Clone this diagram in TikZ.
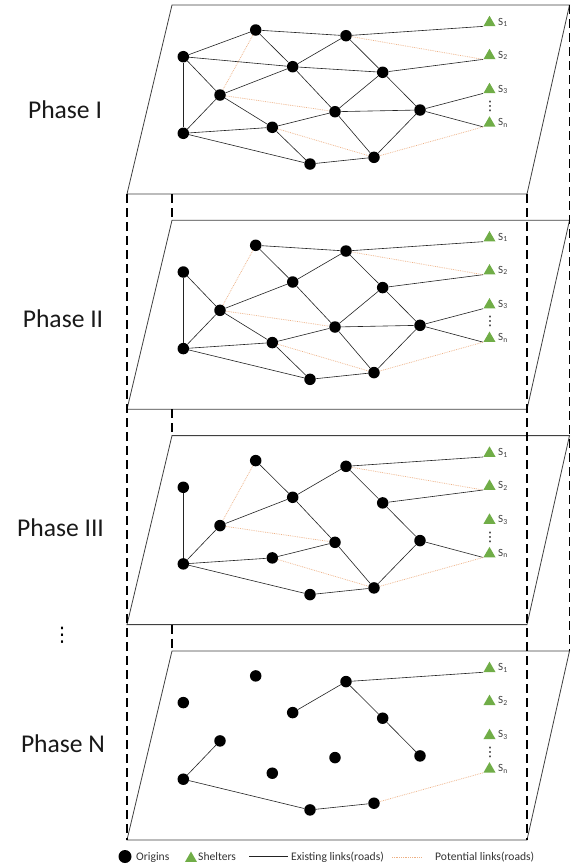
\documentclass[tikz,border=0pt]{standalone}
\usepackage{fontspec}
\setmainfont{Carlito}
\newfontfamily\symfont{DejaVu Sans}
\usetikzlibrary{shapes.geometric}
\definecolor{shgreen}{RGB}{112,173,71}
\definecolor{potcol}{RGB}{238,176,132}
\definecolor{edgecol}{RGB}{35,35,35}
\definecolor{planecol}{RGB}{64,64,64}
\tikzset{
 origin/.style={circle,fill=black,inner sep=0pt,minimum size=11.5pt},
 shelter/.style={regular polygon,regular polygon sides=3,fill=shgreen,inner sep=0pt,minimum size=13.9pt},
 slabel/.style={anchor=base west,inner sep=0pt,font=\fontsize{11}{13}\selectfont,text=black!75},
 road/.style={draw=edgecol,line width=0.6pt},
 potential/.style={draw=potcol,line width=0.7pt,dash pattern=on 0.8pt off 1pt},
 plane/.style={draw=planecol,line width=0.8pt,fill=white},
 pillar/.style={draw=black,line width=1.3pt,dash pattern=on 9pt off 5pt},
 phaselabel/.style={anchor=base,inner sep=0pt,font=\fontsize{25.6}{30}\selectfont,text=black!90},
 legtext/.style={anchor=base west,inner sep=0pt,font=\fontsize{11.6}{14}\selectfont,text=black!80},
 dotsnode/.style={inner sep=0pt,font=\symfont\fontsize{13}{14}\selectfont},
}
\begin{document}
\begin{tikzpicture}[x=1pt,y=-1pt]
\useasboundingbox (0,0) rectangle (571,865);
\foreach \k/\off in {1/0,2/215.3,3/430.6,4/645.9}{
 \begin{scope}[yshift=-\off pt]
  \coordinate (p\k-TL) at (172,5);
  \coordinate (p\k-TR) at (569.5,5);
  \coordinate (p\k-BR) at (527,194);
  \coordinate (p\k-BL) at (127,194);
  \coordinate (p\k-BM) at (172,194);
  \draw[plane] (p\k-TL) -- (p\k-TR) -- (p\k-BR) -- (p\k-BL) -- cycle;
  \node[origin] (p\k-A) at (183.3,56.7) {};
  \node[origin] (p\k-B) at (255.7,30) {};
  \node[origin] (p\k-C) at (346,35.7) {};
  \node[origin] (p\k-D) at (292.7,66.7) {};
  \node[origin] (p\k-E) at (382.7,72.3) {};
  \node[origin] (p\k-F) at (220,95) {};
  \node[origin] (p\k-G) at (335,111.7) {};
  \node[origin] (p\k-H) at (420,110) {};
  \node[origin] (p\k-I) at (183.3,133.3) {};
  \node[origin] (p\k-J) at (272.3,127.3) {};
  \node[origin] (p\k-K) at (310,164) {};
  \node[origin] (p\k-L) at (374,157.3) {};
  \node[shelter] (p\k-S1) at (489.5,22.7) {};
  \node[shelter] (p\k-S2) at (489.5,55.7) {};
  \node[shelter] (p\k-S3) at (489.5,89.7) {};
  \node[shelter] (p\k-Sn) at (489.5,123.2) {};
  \coordinate (p\k-T1) at (p\k-S1.corner 2);
  \coordinate (p\k-T2) at (p\k-S2.corner 2);
  \coordinate (p\k-T3) at (p\k-S3.corner 2);
  \coordinate (p\k-Tn) at (p\k-Sn.corner 2);
  \node[slabel] (p\k-l1) at (498,25) {S\textsubscript{1}};
  \node[slabel] (p\k-l2) at (498,58) {S\textsubscript{2}};
  \node[slabel] (p\k-l3) at (498,92) {S\textsubscript{3}};
  \node[slabel] (p\k-ln) at (498,125.5) {S\textsubscript{n}};
  \node[dotsnode,anchor=base] (p\k-dots) at (490,110.5) {⋮};
 \end{scope}
}
% Phase I
\foreach \a/\b in {A/B,B/C,C/T1,A/D,D/E,E/T2,A/I,A/F,B/D,D/F,C/D,C/E,D/G,E/G,E/H,F/I,F/J,G/J,G/H,G/L,H/T3,H/Tn,H/L,I/J,I/K,J/K,K/L}
  {\draw[road] (p1-\a) -- (p1-\b);}
\foreach \a/\b in {B/F,C/T2,F/G,J/L,L/Tn}
  {\draw[potential] (p1-\a) -- (p1-\b);}
% Phase II
\foreach \a/\b in {B/C,C/T1,B/D,C/D,C/E,D/F,D/G,E/G,E/H,E/T2,A/I,A/F,F/I,F/J,I/J,J/G,J/K,G/H,G/L,H/L,H/T3,H/Tn,I/K,K/L}
  {\draw[road] (p2-\a) -- (p2-\b);}
\foreach \a/\b in {B/F,C/T2,F/G,J/L,L/Tn}
  {\draw[potential] (p2-\a) -- (p2-\b);}
% Phase III
\foreach \a/\b in {A/I,B/D,C/D,C/E,C/T1,D/F,D/G,E/H,E/T2,F/I,G/J,G/L,H/L,H/Tn,I/J,I/K,K/L}
  {\draw[road] (p3-\a) -- (p3-\b);}
\foreach \a/\b in {B/F,C/T2,F/G,J/L,L/Tn}
  {\draw[potential] (p3-\a) -- (p3-\b);}
% Phase N
\foreach \a/\b in {C/T1,C/D,C/E,E/H,F/I,I/K,K/L}
  {\draw[road] (p4-\a) -- (p4-\b);}
\draw[potential] (p4-L) -- (p4-Tn);
% pillars
\draw[pillar] (p1-BL) -- (p4-BL);
\draw[pillar] (p1-BR) -- (p4-BR);
\draw[pillar] (p1-TR) -- (p4-TR);
\draw[pillar] (p1-BM) -- (p2-TL);
\draw[pillar] (p2-BM) -- (p3-TL);
\draw[pillar] (p3-BM) -- (p4-TL);
% phase labels
\node[phaselabel] (ph1) at (65,118) {Phase I};
\node[phaselabel] (ph2) at (63,327) {Phase II};
\node[phaselabel] (ph3) at (60.5,536.7) {Phase III};
\node[phaselabel] (ph4) at (63,752) {Phase N};
\node[dotsnode,anchor=base,font=\symfont\fontsize{20}{22}\selectfont] (phdots) at (62,641) {⋮};
% legend
\node[origin,minimum size=13pt] (legO) at (125,856.5) {};
\node[legtext] (legOt) at (136,860.5) {Origins};
\node[shelter] (legS) at (191,858.5) {};
\node[legtext] (legSt) at (198,860.5) {Shelters};
\coordinate (legR1) at (249,856);
\coordinate (legR2) at (288,856);
\draw[road] (legR1) -- (legR2);
\node[legtext] (legRt) at (291,860.5) {Existing links(roads)};
\coordinate (legP1) at (392,857);
\coordinate (legP2) at (422,857);
\draw[potential] (legP1) -- (legP2);
\node[legtext] (legPt) at (435,860.5) {Potential links(roads)};
\end{tikzpicture}
\end{document}
